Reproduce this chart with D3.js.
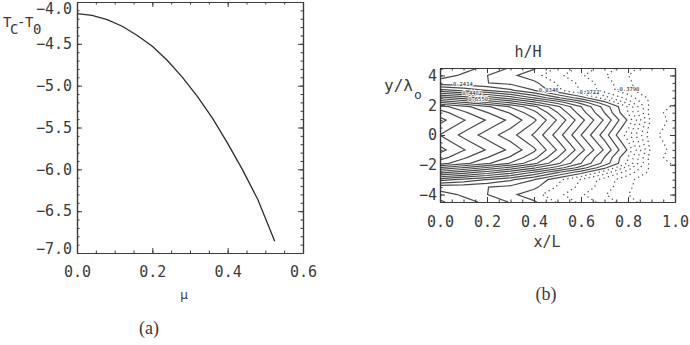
<!DOCTYPE html>
<html>
<head>
<meta charset="utf-8">
<script src="https://cdn.jsdelivr.net/npm/d3@7"></script>
<style>
  body { margin: 0; background: #fff; }
  svg { display: block; }
  text { font-family: "DejaVu Sans Mono", monospace; fill: #3a3a3a; }
</style>
</head>
<body>
<script>
// panel (a): T_C - T_0 against mu
const muValues = [0, 0.04, 0.08, 0.12, 0.16, 0.20, 0.24, 0.28, 0.32, 0.36, 0.40, 0.44, 0.48, 0.525];
const dTValues = [-4.14, -4.16, -4.21, -4.29, -4.40, -4.53, -4.70, -4.90, -5.13, -5.39, -5.69, -6.01, -6.36, -6.86];
const muTicks = [0, 0.2, 0.4, 0.6];
const dTTicks = [-4, -4.5, -5, -5.5, -6, -6.5, -7];

// panel (b): h/H field, rows top to bottom
const xlTicks = [0, 0.2, 0.4, 0.6, 0.8, 1.0];
const ylTicks = [-4, -2, 0, 2, 4];
const hCols = [0, 0.1, 0.2, 0.3, 0.4, 0.5, 0.6, 0.7, 0.8, 0.9, 1.0];
const hRows = [4.5, 4.0, 3.5, 3.0, 2.5, 2.2, 1.9, 1.5, 1.0, 0.5, 0,
               -0.5, -1.0, -1.5, -1.9, -2.2, -2.5, -3.0, -3.5, -4.0, -4.5];
const hGrid = [
  [0.36, 0.29, 0.21, 0.13, 0.05, -0.08, -0.20, -0.32, -0.44, -0.55, -0.50],
  [0.30, 0.22, 0.14, 0.06, -0.03, -0.14, -0.26, -0.37, -0.48, -0.58, -0.53],
  [0.17, 0.16, 0.14, 0.11, 0.06, -0.08, -0.20, -0.33, -0.46, -0.58, -0.55],
  [0.49, 0.42, 0.34, 0.26, 0.14, -0.04, -0.18, -0.32, -0.45, -0.57, -0.55],
  [0.91, 0.82, 0.72, 0.60, 0.44, 0.26, 0.08, -0.12, -0.32, -0.52, -0.53],
  [1.16, 1.06, 0.95, 0.83, 0.67, 0.50, 0.30, 0.06, -0.22, -0.52, -0.56],
  [1.42, 1.31, 1.19, 1.06, 0.89, 0.68, 0.45, 0.20, -0.08, -0.54, -0.60],
  [1.53, 1.40, 1.28, 1.16, 1.00, 0.76, 0.50, 0.24, -0.07, -0.55, -0.62],
  [1.62, 1.49, 1.37, 1.25, 1.09, 0.85, 0.59, 0.33, 0.02, -0.52, -0.62],
  [1.55, 1.42, 1.30, 1.18, 1.02, 0.78, 0.52, 0.26, -0.05, -0.55, -0.62],
  [1.48, 1.35, 1.23, 1.11, 0.95, 0.71, 0.45, 0.19, -0.12, -0.57, -0.62],
  [1.55, 1.42, 1.30, 1.18, 1.02, 0.78, 0.52, 0.26, -0.05, -0.55, -0.62],
  [1.62, 1.49, 1.37, 1.25, 1.09, 0.85, 0.59, 0.33, 0.02, -0.52, -0.62],
  [1.53, 1.40, 1.28, 1.16, 1.00, 0.76, 0.50, 0.24, -0.07, -0.55, -0.62],
  [1.42, 1.31, 1.19, 1.06, 0.89, 0.68, 0.45, 0.20, -0.08, -0.54, -0.60],
  [1.16, 1.06, 0.95, 0.83, 0.67, 0.50, 0.30, 0.06, -0.22, -0.52, -0.56],
  [0.91, 0.82, 0.72, 0.60, 0.44, 0.26, 0.08, -0.12, -0.32, -0.52, -0.53],
  [0.49, 0.42, 0.34, 0.26, 0.14, -0.04, -0.18, -0.32, -0.45, -0.57, -0.55],
  [0.17, 0.16, 0.14, 0.11, 0.06, -0.08, -0.20, -0.33, -0.46, -0.58, -0.55],
  [0.30, 0.22, 0.14, 0.06, -0.03, -0.14, -0.26, -0.37, -0.48, -0.58, -0.53],
  [0.36, 0.29, 0.21, 0.13, 0.05, -0.08, -0.20, -0.32, -0.44, -0.55, -0.50]
];
const hLevels = [-0.5858, -0.4824, -0.3790, -0.2756, -0.1722, -0.0688, 0.0346,
                 0.1380, 0.2414, 0.3448, 0.4482, 0.5516, 0.6550, 0.7584,
                 0.8618, 0.9652, 1.0686, 1.1720, 1.2754, 1.3788, 1.4822, 1.5856];
const hLabels = ["0.2414", "0.4482", "0.6550", "0.0346", "-0.1722", "-0.3790"];
const hLabelX = [0.055, 0.095, 0.12, 0.42, 0.58, 0.75];
const hLabelY = [3.45, 2.85, 2.4, 3.0, 2.87, 3.1];

const ink = "#3a3a3a";
const tickFmt = d => (d < 0 ? "\u2212" : "") + d3.format(".1f")(Math.abs(d));

const svg = d3.select("body").append("svg")
  .attr("width", 690)
  .attr("height", 345);

// draws a boxed frame with inward ticks on all four sides
function frame(g, x, y, xt, yt, xMinor, yMinor, xFmt, yFmt, padB, padL) {
  const big = 5, small = 2.5;
  const h = y.range()[0], w = x.range()[1];
  const style = sel => sel.attr("font-size", 15)
    .attr("font-family", "DejaVu Sans Mono, monospace")
    .attr("color", ink)
    .call(s => s.select(".domain").attr("stroke-width", 1.2));

  g.append("g").attr("transform", `translate(0,${h})`)
    .call(d3.axisBottom(x).tickValues(xt).tickSize(-big).tickSizeOuter(0).tickPadding(padB).tickFormat(xFmt)).call(style);
  g.append("g").attr("transform", `translate(0,${h})`)
    .call(d3.axisBottom(x).tickValues(xMinor).tickSize(-small).tickSizeOuter(0).tickFormat("")).call(style);
  g.append("g").attr("transform", `translate(0,${y.range()[1]})`)
    .call(d3.axisTop(x).tickValues(xt).tickSize(-big).tickSizeOuter(0).tickFormat("")).call(style);
  g.append("g").attr("transform", `translate(0,${y.range()[1]})`)
    .call(d3.axisTop(x).tickValues(xMinor).tickSize(-small).tickSizeOuter(0).tickFormat("")).call(style);
  const left = g.append("g").attr("transform", `translate(${x.range()[0]},0)`)
    .call(d3.axisLeft(y).tickValues(yt).tickSize(-big).tickSizeOuter(0).tickPadding(padL).tickFormat(yFmt)).call(style);
  g.append("g").attr("transform", `translate(${x.range()[0]},0)`)
    .call(d3.axisLeft(y).tickValues(yMinor).tickSize(-small).tickSizeOuter(0).tickFormat("")).call(style);
  g.append("g").attr("transform", `translate(${w},0)`)
    .call(d3.axisRight(y).tickValues(yt).tickSize(-big).tickSizeOuter(0).tickFormat("")).call(style);
  g.append("g").attr("transform", `translate(${w},0)`)
    .call(d3.axisRight(y).tickValues(yMinor).tickSize(-small).tickSizeOuter(0).tickFormat("")).call(style);
  return left;
}

// ---------- panel (a) ----------
const muScale = d3.scaleLinear().domain([0, 0.6]).range([77, 303]);
const dTScale = d3.scaleLinear().domain([-7, -4]).range([253, 2]);
const ga = svg.append("g");

const leftA = frame(ga, muScale, dTScale, muTicks, dTTicks, muScale.ticks(12), dTScale.ticks(30), tickFmt, tickFmt, 13, 5);
// end labels sit a little inside the frame, as in the original
leftA.selectAll(".tick text")
  .attr("dy", d => d === -4 ? "0.78em" : d === -7 ? "0.05em" : "0.32em");

ga.append("path")
  .datum(d3.zip(muValues, dTValues))
  .attr("fill", "none")
  .attr("stroke", "#2e2e2e")
  .attr("stroke-width", 1.3)
  .attr("d", d3.line().x(d => muScale(d[0])).y(d => dTScale(d[1])));

const yLabA = ga.append("text").attr("font-size", 14);
yLabA.append("tspan").attr("x", 3).attr("y", 27).text("T");
yLabA.append("tspan").attr("x", 10).attr("y", 34).text("C");
yLabA.append("tspan").attr("x", 17).attr("y", 27).text("-");
yLabA.append("tspan").attr("x", 25).attr("y", 27).text("T");
yLabA.append("tspan").attr("x", 33).attr("y", 34).text("0");

ga.append("text").attr("x", 184).attr("y", 299)
  .attr("text-anchor", "middle")
  .style("font-family", "DejaVu Sans")
  .attr("font-size", 12).text("\u03bc");

ga.append("text").attr("x", 149).attr("y", 334)
  .attr("text-anchor", "middle")
  .style("font-family", "Liberation Serif")
  .attr("font-size", 18).text("(a)");

// ---------- panel (b) ----------
const xB = d3.scaleLinear().domain([0, 1]).range([440, 675]);
const yB = d3.scaleLinear().domain([-4.5, 4.5]).range([202, 68]);
const gb = svg.append("g");

gb.append("clipPath").attr("id", "clipB")
  .append("rect").attr("x", 440).attr("y", 68).attr("width", 235).attr("height", 134);

const nx = hCols.length, ny = hRows.length;
const colAt = d3.scaleLinear().domain(d3.range(nx)).range(hCols);
const rowAt = d3.scaleLinear().domain(d3.range(ny)).range(hRows);
const bands = d3.contours().size([nx, ny]).thresholds(hLevels)(hGrid.flat());

// keep only the iso-line parts of each ring, not the grid border
function isoLines(ring) {
  const inside = p => p[0] > 0 && p[0] < nx && p[1] > 0 && p[1] < ny;
  const pts = ring.slice(0, -1);
  const start = pts.findIndex(p => !inside(p));
  if (start < 0) return [ring];
  const lines = [];
  let cur = [];
  for (let k = 1; k <= pts.length; k++) {
    const p = pts[(start + k) % pts.length];
    if (inside(p)) cur.push(p);
    else { if (cur.length > 1) lines.push(cur); cur = []; }
  }
  if (cur.length > 1) lines.push(cur);
  return lines;
}

const isoPath = d3.line()
  .x(p => xB(colAt(p[0] - 0.5)))
  .y(p => yB(rowAt(p[1] - 0.5)));

const lineData = [];
bands.forEach(b => {
  b.coordinates.forEach(poly => poly.forEach(ring => {
    isoLines(ring).forEach(l => lineData.push({ level: b.value, pts: l }));
  }));
});

gb.append("g").attr("clip-path", "url(#clipB)")
  .selectAll("path")
  .data(lineData)
  .enter()
    .append("path")
    .attr("fill", "none")
    .attr("stroke", d => d.level < 0 ? "#555" : "#4a4a4a")
    .attr("stroke-width", d => d.level < 0 ? 1.4 : 1.2)
    .attr("stroke-linecap", d => d.level < 0 ? "round" : "butt")
    .attr("stroke-dasharray", d => d.level < 0 ? "0.1,4.5" : null)
    .attr("d", d => isoPath(d.pts));

gb.selectAll(".clab")
  .data(hLabels)
  .enter()
    .append("text")
    .attr("class", "clab")
    .attr("x", (d, i) => xB(hLabelX[i]))
    .attr("y", (d, i) => yB(hLabelY[i]) + 2)
    .attr("font-size", 5.5)
    .style("fill", "#111")
    .attr("stroke", "#fff")
    .attr("stroke-width", 1.6)
    .attr("paint-order", "stroke")
    .text(d => d);

frame(gb, xB, yB, xlTicks, ylTicks, xB.ticks(20), yB.ticks(18),
  tickFmt, d => (d < 0 ? "\u2212" : "") + Math.abs(d), 14, 3);

gb.append("text").attr("x", 528).attr("y", 57)
  .attr("text-anchor", "middle").attr("font-size", 15).text("h/H");
gb.append("text").attr("x", 547).attr("y", 247)
  .attr("text-anchor", "middle").attr("font-size", 15).text("x/L");

const yLabB = gb.append("text").attr("font-size", 16);
yLabB.append("tspan").attr("x", 384).attr("y", 91).text("y/\u03bb");
yLabB.append("tspan").attr("x", 414).attr("y", 99).attr("font-size", 13).text("o");

gb.append("text").attr("x", 546).attr("y", 300)
  .attr("text-anchor", "middle")
  .style("font-family", "Liberation Serif")
  .attr("font-size", 18).text("(b)");
</script>
</body>
</html>
